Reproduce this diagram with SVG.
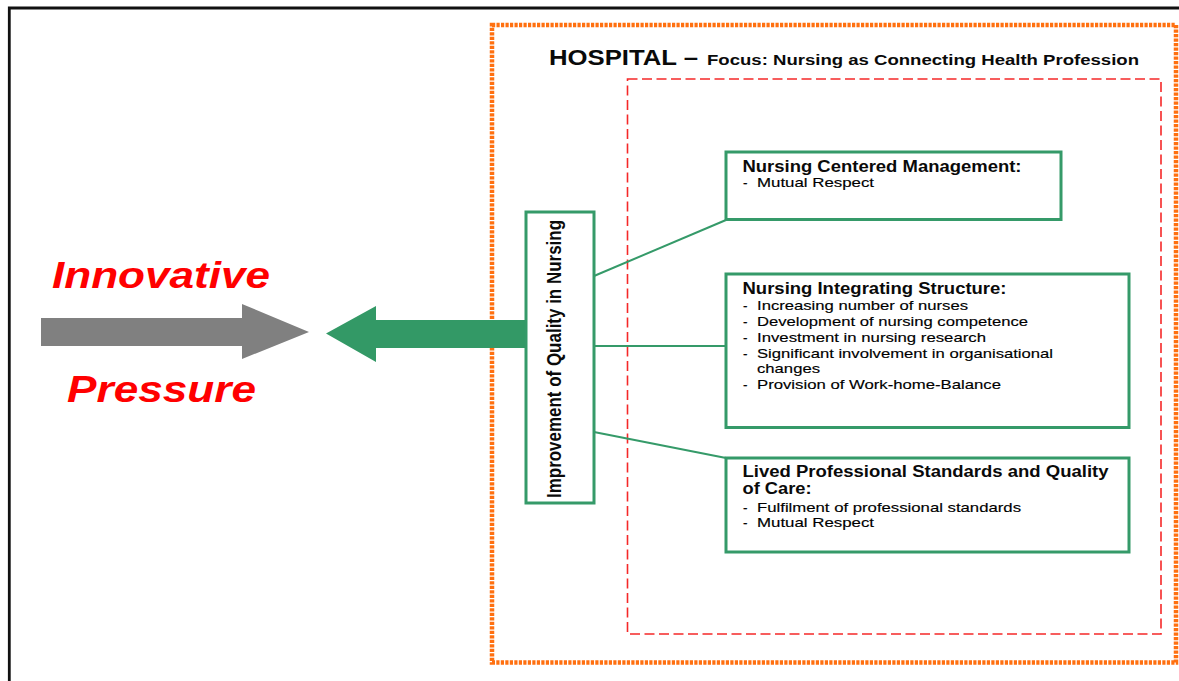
<svg xmlns="http://www.w3.org/2000/svg" width="1179" height="681" viewBox="0 0 1179 681">
  <style>
    .bold { font-family: "Liberation Sans", Arial, sans-serif; font-weight: bold; fill: #0a0a0a; }
    .item { font-family: "Liberation Sans", Arial, sans-serif; font-size: 13.5px; fill: #000; stroke: #000; stroke-width: 0.15; }
    .title { font-size: 16px; }
    .box { fill: #fff; stroke: #359a69; stroke-width: 3; }
    .link { stroke: #359a69; stroke-width: 2; fill: none; }
    .pressure { font-family: "Liberation Sans", Arial, sans-serif; font-weight: bold; font-style: italic; font-size: 36px; fill: #ff0000; }
  </style>

  <rect width="1179" height="681" fill="#fff"/>

  <!-- page frame -->
  <g id="frame" fill="none" stroke="#111" stroke-width="2.8">
    <path d="M9.3 681 V8 H1179"/>
  </g>

  <!-- innovative pressure coming from outside -->
  <g id="innovative-pressure">
    <text class="pressure" x="52" y="288" textLength="218" lengthAdjust="spacingAndGlyphs">Innovative</text>
    <text class="pressure" x="67" y="402" textLength="189" lengthAdjust="spacingAndGlyphs">Pressure</text>
    <polygon points="41,318 242,318 242,304 309,332 242,359 242,346 41,346" fill="#808080"/>
  </g>

  <!-- hospital boundary -->
  <g id="hospital">
    <rect x="492" y="25" width="684" height="637.5" fill="none" stroke="#ff7010" stroke-width="4.5" stroke-dasharray="3.2 1.3"/>
    <text class="bold" x="549" y="65" font-size="22" textLength="149" lengthAdjust="spacingAndGlyphs">HOSPITAL –</text>
    <text class="bold" x="707" y="65" font-size="14" textLength="432" lengthAdjust="spacingAndGlyphs">Focus: Nursing as Connecting Health Profession</text>
  </g>

  <!-- nursing focus area -->
  <g id="nursing-area">
    <rect x="627.5" y="79" width="533.5" height="555" fill="none" stroke="#f52828" stroke-width="1.6" stroke-dasharray="10 4.5"/>
  </g>

  <!-- connectors -->
  <g id="connectors">
    <polygon points="526,320 376,320 376,306 326,333.5 376,362 376,348 526,348" fill="#339966"/>
    <line class="link" x1="594" y1="276" x2="726" y2="220"/>
    <line class="link" x1="594" y1="346" x2="726" y2="346"/>
    <line class="link" x1="594" y1="432" x2="726" y2="458"/>
  </g>

  <!-- central node -->
  <g id="quality-improvement">
    <rect class="box" x="526" y="212" width="68" height="291"/>
    <text class="bold" font-size="17" transform="translate(561 498) scale(1.17 1) rotate(-90)" x="0" y="0" textLength="278" lengthAdjust="spacingAndGlyphs">Improvement of Quality in Nursing</text>
  </g>

  <g id="management">
    <rect class="box" x="726" y="152" width="335" height="67.5"/>
    <text class="bold title" x="742.5" y="172" textLength="279" lengthAdjust="spacingAndGlyphs">Nursing Centered Management:</text>
    <text class="item" x="743" y="187">-</text>
    <text class="item" x="757" y="187" textLength="117" lengthAdjust="spacingAndGlyphs">Mutual Respect</text>
  </g>

  <g id="structure">
    <rect class="box" x="726" y="274" width="403" height="153.5"/>
    <text class="bold title" x="742.5" y="293.5" textLength="264" lengthAdjust="spacingAndGlyphs">Nursing Integrating Structure:</text>
    <text class="item" x="743" y="310">-</text>
    <text class="item" x="757" y="310" textLength="211" lengthAdjust="spacingAndGlyphs">Increasing number of nurses</text>
    <text class="item" x="743" y="326">-</text>
    <text class="item" x="757" y="326" textLength="271" lengthAdjust="spacingAndGlyphs">Development of nursing competence</text>
    <text class="item" x="743" y="342">-</text>
    <text class="item" x="757" y="342" textLength="229" lengthAdjust="spacingAndGlyphs">Investment in nursing research</text>
    <text class="item" x="743" y="357.5">-</text>
    <text class="item" x="757" y="357.5" textLength="296" lengthAdjust="spacingAndGlyphs">Significant involvement in organisational</text>
    <text class="item" x="757" y="373" textLength="63" lengthAdjust="spacingAndGlyphs">changes</text>
    <text class="item" x="743" y="389">-</text>
    <text class="item" x="757" y="389" textLength="244" lengthAdjust="spacingAndGlyphs">Provision of Work-home-Balance</text>
  </g>

  <g id="standards">
    <rect class="box" x="726" y="458" width="403" height="94"/>
    <text class="bold title" x="742.5" y="477" textLength="366" lengthAdjust="spacingAndGlyphs">Lived Professional Standards and Quality</text>
    <text class="bold title" x="742.5" y="494" textLength="69" lengthAdjust="spacingAndGlyphs">of Care:</text>
    <text class="item" x="743" y="511.5">-</text>
    <text class="item" x="757" y="511.5" textLength="264" lengthAdjust="spacingAndGlyphs">Fulfilment of professional standards</text>
    <text class="item" x="743" y="527">-</text>
    <text class="item" x="757" y="527" textLength="117" lengthAdjust="spacingAndGlyphs">Mutual Respect</text>
  </g>
</svg>
